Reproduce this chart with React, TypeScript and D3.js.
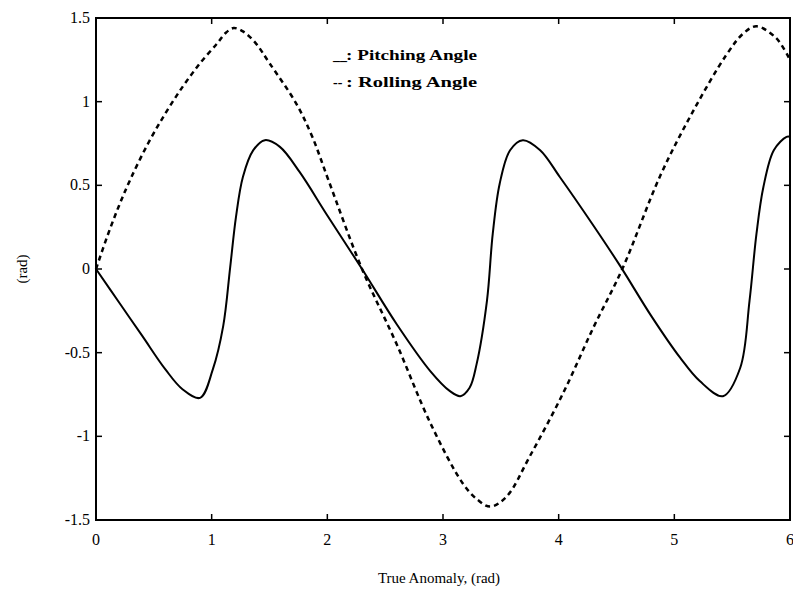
import * as d3 from "d3";

const W = 793;
const H = 590;
const margin = { left: 96, right: 3, top: 18, bottom: 70 };

const pitchX = [0, 0.2, 0.4, 0.6, 0.75, 0.9, 1.01, 1.1, 1.16, 1.21, 1.27, 1.36, 1.46, 1.59, 1.76, 2.0, 2.3, 2.6, 2.89, 3.06, 3.15, 3.23, 3.29, 3.38, 3.43, 3.49, 3.58, 3.69, 3.84, 4.01, 4.3, 4.53, 4.8, 5.05, 5.22, 5.42, 5.57, 5.65, 5.71, 5.77, 5.86, 5.97, 6.0];
const pitchY = [0, -0.2, -0.4, -0.6, -0.72, -0.77, -0.6, -0.34, 0.01, 0.31, 0.55, 0.71, 0.77, 0.73, 0.58, 0.32, 0.0, -0.33, -0.61, -0.73, -0.76, -0.71, -0.57, -0.19, 0.21, 0.51, 0.71, 0.77, 0.71, 0.55, 0.26, 0.02, -0.28, -0.53, -0.67, -0.76, -0.59, -0.19, 0.21, 0.49, 0.71, 0.79, 0.79];

const rollX = [0, 0.1, 0.2, 0.3, 0.45, 0.6, 0.75, 0.9, 1.05, 1.12, 1.19, 1.27, 1.38, 1.5, 1.73, 1.87, 2.01, 2.3, 2.6, 2.89, 3.17, 3.3, 3.41, 3.55, 3.75, 4.04, 4.3, 4.55, 4.88, 5.16, 5.45, 5.6, 5.71, 5.88, 6.0];
const rollY = [0, 0.2, 0.38, 0.54, 0.75, 0.93, 1.09, 1.23, 1.35, 1.41, 1.44, 1.42, 1.35, 1.23, 0.99, 0.79, 0.53, 0, -0.45, -0.92, -1.28, -1.38, -1.42, -1.36, -1.12, -0.74, -0.35, 0.0, 0.56, 0.94, 1.28, 1.41, 1.45, 1.38, 1.25];

const xTicks = [0, 1, 2, 3, 4, 5, 6];
const yTicks = [1.5, 1, 0.5, 0, -0.5, -1, -1.5];
const yTickLabels = ["1.5", "1", "0.5", "0", "-0.5", "-1", "-1.5"];

const legendItems = [
  { mark: "__", label: ": Pitching Angle" },
  { mark: "--", label: ": Rolling Angle" },
];

const font = "'Liberation Serif', 'DejaVu Serif', serif";

export default function App() {
  const x = d3.scaleLinear().domain([0, 6]).range([margin.left, W - margin.right]);
  const y = d3.scaleLinear().domain([-1.5, 1.5]).range([H - margin.bottom, margin.top]);

  const line = d3
    .line<[number, number]>()
    .x((d) => x(d[0]))
    .y((d) => y(d[1]))
    .curve(d3.curveCatmullRom.alpha(0.5));

  const pitch = pitchX.map((v, i) => [v, pitchY[i]] as [number, number]);
  const roll = rollX.map((v, i) => [v, rollY[i]] as [number, number]);

  const x0 = x(0);
  const x1 = x(6);
  const yT = y(1.5);
  const yB = y(-1.5);
  const tl = 6;

  return (
    <svg width={W} height={H} style={{ position: "absolute", left: 0, top: 0, background: "#fff" }}>
      <g stroke="#000" strokeWidth={1.5}>
        {xTicks.slice(1, -1).map((t) => (
          <g key={"xt" + t}>
            <line x1={x(t)} x2={x(t)} y1={yB} y2={yB - tl} />
            <line x1={x(t)} x2={x(t)} y1={yT} y2={yT + tl} />
          </g>
        ))}
        {yTicks.slice(1, -1).map((t) => (
          <g key={"yt" + t}>
            <line x1={x0} x2={x0 + tl} y1={y(t)} y2={y(t)} />
            <line x1={x1} x2={x1 - tl} y1={y(t)} y2={y(t)} />
          </g>
        ))}
      </g>
      <rect x={x0} y={yT} width={x1 - x0} height={yB - yT} fill="none" stroke="#000" strokeWidth={2} />

      <path d={line(pitch) ?? ""} fill="none" stroke="#000" strokeWidth={2} />
      <path d={line(roll) ?? ""} fill="none" stroke="#000" strokeWidth={2.5} strokeDasharray="5 4" />

      <g fontFamily={font} fontSize={16} fill="#000">
        {xTicks.map((t) => (
          <text key={"xl" + t} x={x(t)} y={yB + 25} textAnchor="middle">
            {t}
          </text>
        ))}
        {yTicks.map((t, i) => (
          <text key={"yl" + t} x={x0 - 6} y={y(t) + 5} textAnchor="end">
            {yTickLabels[i]}
          </text>
        ))}
        <text x={(x0 + x1) / 2 - 4} y={583} textAnchor="middle" fontSize={15}>
          True Anomaly, (rad)
        </text>
        <text transform={`translate(27, ${y(0)}) rotate(-90)`} textAnchor="middle" fontSize={15}>
          (rad)
        </text>
      </g>

      <g fontFamily={font} fontSize={14} fontWeight="bold" fill="#000">
        {legendItems.map((d, i) => (
          <g key={d.label} transform={`translate(333, ${60 + i * 27})`}>
            <text x={0} y={0}>{d.mark}</text>
            <text x={13} y={0} textLength={131} lengthAdjust="spacingAndGlyphs">
              {d.label}
            </text>
          </g>
        ))}
      </g>
    </svg>
  );
}
